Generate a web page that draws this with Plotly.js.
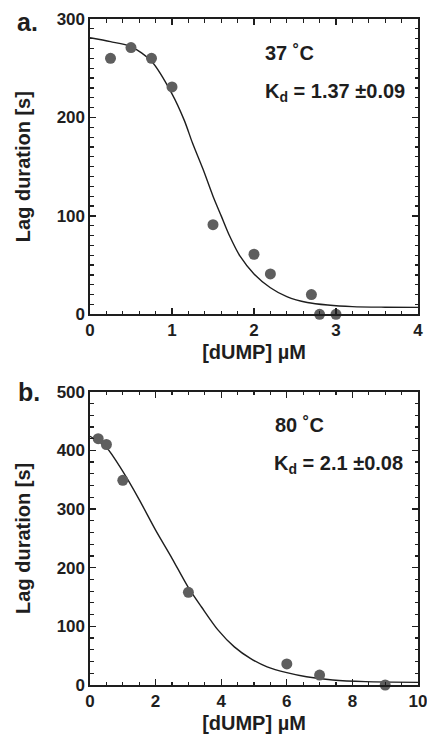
<!DOCTYPE html>
<html>
<head>
<meta charset="utf-8">
<script src="https://cdn.plot.ly/plotly-3.0.1.min.js"></script>
<style>html,body{margin:0;padding:0;background:#fff;}#chart{width:427px;height:739px;}</style>
</head>
<body>
<div id="chart"></div>
<script>
// Panel a (37 °C): measured points
const aDumpX = [0.25, 0.5, 0.75, 1.0, 1.5, 2.0, 2.2, 2.7, 2.8, 3.0];
const aLagY  = [260, 271, 260, 231, 91, 61, 41, 20, 0, 0];
// Panel a fitted curve
const aFitX = [0, 0.25, 0.5, 0.75, 1.0, 1.15, 1.25, 1.38, 1.5, 1.6, 1.7, 1.83, 2.0, 2.2, 2.4, 2.65, 2.9, 3.2, 3.6, 4.0];
const aFitY = [281, 277, 272, 257, 224, 197, 174, 147, 120, 100, 80, 59, 41, 27, 18, 12, 9.4, 7.8, 7.2, 7];

// Panel b (80 °C): measured points
const bDumpX = [0.25, 0.5, 1.0, 3.0, 6.0, 7.0, 9.0];
const bLagY  = [420, 410, 349, 158, 36, 17, 0];
// Panel b fitted curve
const bFitX = [0, 0.5, 1.0, 1.5, 2.0, 2.5, 3.0, 3.4, 3.9, 4.4, 4.9, 5.4, 6.0, 6.6, 7.4, 8.4, 10];
const bFitY = [424, 405, 364, 316, 264, 216, 166, 133, 94, 65, 45, 31, 21, 14, 8.5, 5.7, 4.5];

const panelLabels = ["a.", "b."];
const tempLabels = ["37 ˚C", "80 ˚C"];
const kdLabels = ["K<sub>d</sub> = 1.37 ±0.09", "K<sub>d</sub> = 2.1 ±0.08"];
const xTitle = "[dUMP] µM";
const yTitle = "Lag duration [s]";

const FONT = "Liberation Sans, Arial, Helvetica, sans-serif";
const INK = "#1e1e1e";
const DOT = "#5e5e5e";

const traces = [
  {x: aFitX, y: aFitY, xaxis: "x", yaxis: "y", mode: "lines", line: {color: INK, width: 1.4, shape: "spline", smoothing: 0.8}, hoverinfo: "skip"},
  {x: aDumpX, y: aLagY, xaxis: "x", yaxis: "y", mode: "markers", marker: {color: DOT, size: 11}, cliponaxis: false},
  {x: bFitX, y: bFitY, xaxis: "x2", yaxis: "y2", mode: "lines", line: {color: INK, width: 1.4, shape: "spline", smoothing: 0.8}, hoverinfo: "skip"},
  {x: bDumpX, y: bLagY, xaxis: "x2", yaxis: "y2", mode: "markers", marker: {color: DOT, size: 11}, cliponaxis: false}
];

function axisBase(extra) {
  return Object.assign({
    showline: true, linecolor: INK, linewidth: 1.6, mirror: "ticks",
    ticks: "inside", ticklen: 6, tickwidth: 1.4, tickcolor: INK,
    showgrid: false, zeroline: false, fixedrange: true,
    ticklabeloverflow: "allow",
    tickfont: {family: FONT, size: 17, color: INK, weight: "bold"}
  }, extra);
}

const xDom = [90/427, 418/427];
const layout = {
  width: 427, height: 739,
  margin: {l: 0, r: 0, t: 0, b: 0},
  paper_bgcolor: "#fff", plot_bgcolor: "#fff",
  showlegend: false,
  font: {family: FONT, color: INK},
  xaxis: axisBase({domain: xDom, anchor: "y", range: [0, 4], dtick: 1, tick0: 0,
    minor: {dtick: 0.2, ticklen: 3.5, tickwidth: 1.2, tickcolor: INK, ticks: "inside"},
    title: {text: xTitle, font: {family: FONT, size: 20, color: INK, weight: "bold"}, standoff: 6}}),
  yaxis: axisBase({domain: [1 - 314.3/739, 1 - 19/739], anchor: "x", range: [0, 300], dtick: 100, tick0: 0,
    minor: {dtick: 10, ticklen: 3.5, tickwidth: 1.2, tickcolor: INK, ticks: "inside"},
    title: {text: yTitle, font: {family: FONT, size: 20, color: INK, weight: "bold"}, standoff: 20}}),
  xaxis2: axisBase({domain: xDom, anchor: "y2", range: [0, 10], dtick: 2, tick0: 0,
    minor: {dtick: 0.5, ticklen: 3.5, tickwidth: 1.2, tickcolor: INK, ticks: "inside"},
    title: {text: xTitle, font: {family: FONT, size: 20, color: INK, weight: "bold"}, standoff: 6}}),
  yaxis2: axisBase({domain: [1 - 685/739, 1 - 391.7/739], anchor: "x2", range: [0, 500], dtick: 100, tick0: 0,
    minor: {dtick: 20, ticklen: 3.5, tickwidth: 1.2, tickcolor: INK, ticks: "inside"},
    title: {text: yTitle, font: {family: FONT, size: 20, color: INK, weight: "bold"}, standoff: 20}}),
  annotations: [
    {text: panelLabels[0], xref: "paper", yref: "paper", x: 15/427, y: 1 - 22/739, xanchor: "left", yanchor: "middle", showarrow: false, font: {family: FONT, size: 25, color: INK, weight: "bold"}},
    {text: panelLabels[1], xref: "paper", yref: "paper", x: 16/427, y: 1 - 392/739, xanchor: "left", yanchor: "middle", showarrow: false, font: {family: FONT, size: 25, color: INK, weight: "bold"}},
    {text: tempLabels[0], xref: "x", yref: "y", x: 2.11, y: 265, xanchor: "left", yanchor: "middle", showarrow: false, font: {family: FONT, size: 20, color: INK, weight: "bold"}},
    {text: kdLabels[0], xref: "x", yref: "y", x: 2.11, y: 225, xanchor: "left", yanchor: "middle", showarrow: false, font: {family: FONT, size: 20, color: INK, weight: "bold"}},
    {text: tempLabels[1], xref: "x2", yref: "y2", x: 5.57, y: 443, xanchor: "left", yanchor: "middle", showarrow: false, font: {family: FONT, size: 20, color: INK, weight: "bold"}},
    {text: kdLabels[1], xref: "x2", yref: "y2", x: 5.54, y: 376, xanchor: "left", yanchor: "middle", showarrow: false, font: {family: FONT, size: 20, color: INK, weight: "bold"}}
  ]
};

Plotly.newPlot("chart", traces, layout, {staticPlot: true, displayModeBar: false});
</script>
</body>
</html>
